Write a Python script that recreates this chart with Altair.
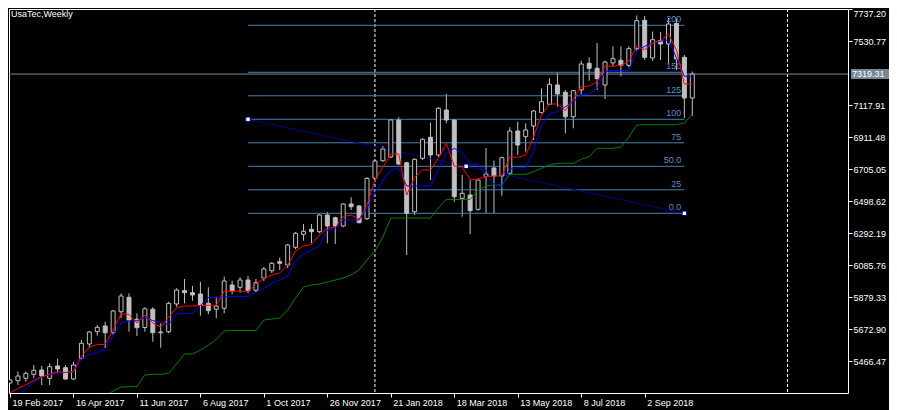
import json
import altair as alt
import pandas as pd

symbol_title = "UsaTec,Weekly"
x_tick_weeks = [0, 8, 16, 24, 32, 40, 48, 56, 64, 72, 80]
x_tick_labels = ["19 Feb 2017", "16 Apr 2017", "11 Jun 2017", "6 Aug 2017", "1 Oct 2017",
                 "26 Nov 2017", "21 Jan 2018", "18 Mar 2018", "13 May 2018", "8 Jul 2018", "2 Sep 2018"]
y_tick_values = [5466.47, 5672.90, 5879.33, 6085.76, 6292.19, 6498.62, 6705.05,
                 6911.48, 7117.91, 7530.77, 7737.20]

opens = [5326.5, 5341.3, 5356.8, 5382.6, 5410.3, 5356.8, 5436.1, 5425.2, 5352.3, 5485.8,
         5578.1, 5657.4, 5694.2, 5651.0, 5786.4, 5879.3, 5737.4, 5684.5, 5802.6, 5650.3,
         5657.4, 5836.1, 5921.9, 5909.0, 5900.6, 5840.6, 5801.9, 5808.4, 5958.7, 5943.8,
         5990.9, 5924.5, 6003.8, 6050.9, 6109.0, 6087.7, 6201.9, 6285.7, 6318.0, 6302.5,
         6410.2, 6392.8, 6339.3, 6481.2, 6468.3, 6386.4, 6647.0, 6760.5, 6784.4, 7023.1,
         6747.6, 6431.5, 6776.0, 6911.5, 6797.3, 7087.6, 7023.1, 6518.0, 6539.3, 6447.0,
         6658.6, 6713.4, 6661.8, 6679.2, 6952.1, 6915.3, 6984.4, 7070.2, 7124.4, 7248.9,
         7201.8, 7044.4, 7216.6, 7388.9, 7356.6, 7248.9, 7390.8, 7408.2, 7376.0, 7483.0,
         7666.2, 7423.0, 7535.9, 7513.4, 7645.6, 7427.6, 7165.0]
highs = [5352.3, 5401.9, 5399.4, 5442.6, 5436.1, 5453.5, 5483.2, 5442.6, 5463.9, 5603.9,
         5661.9, 5700.6, 5721.9, 5797.4, 5905.1, 5905.1, 5776.1, 5814.8, 5814.8, 5711.6,
         5850.9, 5937.4, 5997.4, 5952.2, 5980.0, 5943.8, 5883.2, 6012.2, 5986.4, 6008.3,
         6016.7, 5997.4, 6074.8, 6107.0, 6134.8, 6223.2, 6300.6, 6352.2, 6352.2, 6414.7,
         6429.6, 6399.3, 6485.7, 6524.4, 6474.7, 6653.4, 6765.0, 6855.4, 7027.6, 7040.5,
         6754.1, 6776.0, 6905.0, 7005.7, 7105.0, 7190.8, 7027.6, 6668.3, 6636.0, 6647.0,
         6842.5, 6761.8, 6786.3, 6976.0, 7012.1, 7001.8, 7087.6, 7227.6, 7292.1, 7328.2,
         7216.6, 7216.6, 7405.6, 7427.6, 7519.8, 7405.6, 7498.5, 7498.5, 7498.5, 7697.2,
         7694.0, 7594.0, 7590.8, 7681.1, 7679.1, 7442.4, 7336.0]
lows = [5320.0, 5313.6, 5334.9, 5356.8, 5313.6, 5313.6, 5392.9, 5345.8, 5345.8, 5474.8,
        5556.8, 5631.6, 5552.3, 5636.1, 5745.8, 5657.4, 5629.7, 5657.4, 5592.9, 5554.2,
        5647.1, 5818.7, 5840.6, 5857.4, 5760.6, 5769.6, 5743.8, 5776.1, 5898.7, 5909.0,
        5905.1, 5910.3, 5984.5, 6036.1, 6055.4, 6068.3, 6189.0, 6244.4, 6227.7, 6292.2,
        6227.7, 6223.2, 6330.9, 6442.5, 6356.7, 6378.0, 6640.5, 6754.1, 6777.9, 6732.8,
        6152.2, 6410.2, 6765.0, 6636.0, 6786.3, 7001.8, 6496.0, 6399.3, 6287.7, 6438.0,
        6421.2, 6421.2, 6534.7, 6668.3, 6797.3, 6818.6, 6894.1, 7066.3, 7119.8, 7108.9,
        6937.3, 6969.5, 7184.4, 7276.6, 7216.6, 7158.6, 7369.5, 7305.0, 7363.0, 7468.2,
        7410.1, 7403.7, 7410.1, 7390.8, 7345.6, 7036.0, 7048.9]
closes = [5345.8, 5371.6, 5389.0, 5408.4, 5371.6, 5431.6, 5416.8, 5352.3, 5442.6, 5582.6,
          5655.5, 5685.8, 5651.0, 5790.9, 5887.7, 5732.9, 5683.2, 5805.1, 5651.0, 5655.5,
          5840.6, 5926.4, 5909.0, 5894.2, 5829.6, 5792.9, 5823.2, 5984.5, 5921.9, 5990.9,
          5921.9, 5973.5, 6061.9, 6098.7, 6098.7, 6216.7, 6292.2, 6305.1, 6302.5, 6410.2,
          6339.3, 6339.3, 6481.2, 6463.8, 6360.6, 6647.0, 6758.6, 6836.0, 7023.1, 6739.2,
          6421.2, 6769.6, 6898.6, 6797.3, 7098.6, 7023.1, 6528.3, 6550.2, 6438.0, 6636.0,
          6674.7, 6661.8, 6779.9, 6952.1, 6861.8, 6958.6, 7081.1, 7141.1, 7253.4, 7190.8,
          7044.4, 7212.1, 7384.3, 7356.6, 7290.8, 7397.2, 7418.5, 7376.0, 7483.0, 7663.7,
          7427.6, 7541.1, 7513.4, 7642.4, 7416.6, 7165.0, 7319.31]

red_line = [5262.0, 5291.0, 5313.6, 5342.6, 5367.1, 5381.3, 5399.4, 5394.2, 5400.6, 5498.7,
            5556.8, 5574.8, 5574.8, 5668.4, 5771.6, 5769.6, 5713.5, 5765.1, 5713.5, 5687.7,
            5750.3, 5811.6, 5823.2, 5823.2, 5826.4, 5827.7, 5827.7, 5918.0, 5918.0, 5918.0,
            5918.0, 5965.1, 6001.9, 6023.2, 6036.1, 6087.7, 6178.0, 6210.2, 6219.9, 6281.2,
            6324.4, 6330.9, 6399.3, 6410.2, 6382.5, 6474.7, 6636.0, 6717.9, 6803.7, 6803.7,
            6539.3, 6653.4, 6700.5, 6700.5, 6776.0, 6872.8, 6726.3, 6717.9, 6640.5, 6640.5,
            6658.6, 6661.8, 6661.8, 6782.5, 6782.5, 6797.3, 6915.3, 7055.3, 7126.3, 7126.3,
            7083.1, 7156.6, 7237.9, 7242.4, 7268.2, 7369.5, 7369.5, 7376.0, 7401.8, 7498.5,
            7476.6, 7519.8, 7534.6, 7577.9, 7474.6, 7255.3, 7255.3]
blue_line = [5216.8, 5249.1, 5287.8, 5332.9, 5365.2, 5380.0, 5389.0, 5394.2, 5399.4, 5481.3,
             5510.3, 5525.2, 5541.3, 5632.9, 5716.7, 5726.4, 5728.4, 5749.0, 5729.6, 5718.7,
             5703.8, 5771.6, 5776.1, 5776.1, 5826.4, 5878.0, 5878.0, 5883.2, 5884.5, 5884.5,
             5884.5, 5910.3, 5937.4, 5969.6, 5990.9, 6016.7, 6110.3, 6158.6, 6184.4, 6210.2,
             6313.5, 6324.4, 6378.0, 6378.0, 6378.0, 6452.2, 6555.4, 6631.5, 6700.5, 6711.5,
             6597.3, 6597.3, 6597.3, 6597.3, 6700.5, 6808.3, 6840.5, 6808.3, 6739.2, 6739.2,
             6668.3, 6610.2, 6590.9, 6707.0, 6715.4, 6715.4, 6818.6, 6990.8, 7061.8, 7076.6,
             7108.9, 7141.1, 7184.4, 7190.8, 7229.5, 7337.2, 7341.1, 7341.1, 7341.1, 7470.1,
             7498.5, 7519.8, 7530.8, 7541.1, 7423.0, 7305.0, 7305.0]
green_line = [None] * 12 + [
    5242.6, 5274.9, 5300.7, 5302.6, 5302.6, 5378.1, 5382.6, 5382.6,
    5389.0, 5449.0, 5513.5, 5513.5, 5539.3, 5571.6, 5607.1, 5661.9, 5665.1, 5665.1,
    5665.1, 5665.1, 5732.9, 5739.3, 5745.8, 5797.4, 5874.8, 5945.8, 5958.7, 5965.1,
    5978.0, 5990.9, 6003.8, 6023.2, 6055.4, 6119.9, 6178.0, 6268.3, 6390.9, 6390.9,
    6390.9, 6390.9, 6390.9, 6390.9, 6455.4, 6510.2, 6510.2, 6510.2, 6510.2, 6571.5,
    6597.3, 6603.8, 6603.8, 6672.8, 6672.8, 6672.8, 6689.6, 6711.5, 6732.8, 6743.8,
    6743.8, 6743.8, 6769.6, 6786.3, 6840.5, 6840.5, 6840.5, 6848.9, 6913.4, 6990.8,
    6992.8, 6992.8, 6992.8, 6992.8, 6992.8, 7003.7, 7061.8]

last_price = 7319.31
year_breaks = [46, 98]
fib_start_week, fib_start_price = 30, 7027.6
fib_end_week, fib_end_price = 85, 6421.2
fib_levels = [0, 25, 50, 75, 100, 125, 150, 200]
fib_texts = ["0.0", "25", "50.0", "75", "100", "125", "150", "200"]

# ---------------- layout ----------------
W, H = 839, 384
XDOM = [-0.125, 105.625]
YDOM = [5262.0, 7739.1]
FONT = "Liberation Sans"
CANDLE = "#c0c0c0"
FIB = "#4682b4"
NAVY = "#00008b"

weeks = list(range(len(opens)))
cd = pd.DataFrame({"week": weeks, "open": opens, "high": highs, "low": lows, "close": closes})
cd["bull"] = cd["close"] >= cd["open"]
cd["blo"] = cd[["open", "close"]].min(axis=1)
cd["bhi"] = cd[["open", "close"]].max(axis=1)
cd["left"] = cd["week"] - 0.25
cd["right"] = cd["week"] + 0.25

xs = alt.Scale(domain=XDOM, nice=False, zero=False)
ys = alt.Scale(domain=YDOM, nice=False, zero=False)

label_expr = f"{json.dumps(x_tick_labels)}[indexof({json.dumps(x_tick_weeks)}, datum.value)]"
x_axis = alt.Axis(values=x_tick_weeks, labelExpr=label_expr, orient="bottom", labelAlign="left",
                  labelBaseline="top", tickSize=4, labelPadding=1, labelOffset=2, labelFlush=False,
                  labelOverlap=False, labelBound=False, title=None, domain=False, grid=False,
                  labelColor="white", tickColor="white", labelFont=FONT, labelFontSize=9)
y_axis = alt.Axis(values=y_tick_values, format=".2f", orient="right", tickSize=4, labelPadding=1,
                  labelAlign="left",
                  labelBaseline={"condition": {"test": "datum.value > 7700", "value": "top"},
                                 "value": "middle"},
                  title=None, domain=False, grid=False,
                  labelColor="white", tickColor="white", labelFont=FONT, labelFontSize=9,
                  labelOverlap=False, labelFlush=False, labelBound=False)


def X(field):
    return alt.X(field, scale=xs, axis=x_axis, title=None)


def Y(field):
    return alt.Y(field, scale=ys, axis=y_axis, title=None)


# year separators
sep_df = pd.DataFrame({"week": year_breaks})
seps = alt.Chart(sep_df).mark_rule(color="white", strokeDash=[3, 2], strokeWidth=1).encode(
    x=X("week:Q"))

# current price line
price_df = pd.DataFrame({"price": [last_price], "label": [f"{last_price:.2f}"]})
price_line = alt.Chart(price_df).mark_rule(color="#778899", strokeWidth=1).encode(y=Y("price:Q"))

# fibonacci
fib_df = pd.DataFrame({"level": fib_levels, "text": fib_texts})
fib_df["price"] = fib_end_price + (fib_start_price - fib_end_price) * fib_df["level"] / 100.0
fib_df["x1"] = fib_start_week
fib_df["x2"] = fib_end_week
fib_lines = alt.Chart(fib_df).mark_rule(color=FIB, strokeWidth=1).encode(
    x=X("x1:Q"), x2="x2:Q", y=Y("price:Q"))
fib_labels = alt.Chart(fib_df).mark_text(color="#5a8cc8", align="right", baseline="alphabetic",
                                         dx=-3, dy=-3, font=FONT, fontSize=9).encode(
    x=X("x2:Q"), y=Y("price:Q"), text="text:N")

anchor_df = pd.DataFrame({"week": [fib_start_week, (fib_start_week + fib_end_week) / 2, fib_end_week],
                          "price": [fib_start_price, (fib_start_price + fib_end_price) / 2, fib_end_price]})
diag_df = pd.DataFrame({"w1": [fib_start_week], "p1": [fib_start_price],
                        "w2": [fib_end_week], "p2": [fib_end_price]})
diag = alt.Chart(diag_df).mark_rule(color=NAVY, strokeWidth=1).encode(
    x=X("w1:Q"), y=Y("p1:Q"), x2="w2:Q", y2="p2:Q")
anchors = alt.Chart(anchor_df).mark_square(size=20, filled=True, fill="white", stroke=NAVY,
                                           strokeWidth=1, opacity=1).encode(
    x=X("week:Q"), y=Y("price:Q"))

# candles
wicks = alt.Chart(cd).mark_rule(color=CANDLE, strokeWidth=1, clip=True).encode(
    x=X("week:Q"), y=Y("low:Q"), y2="high:Q")
bull_bodies = alt.Chart(cd[cd["bull"]]).mark_rect(fill="black", stroke=CANDLE, strokeWidth=1,
                                                 clip=True).encode(
    x=X("left:Q"), x2="right:Q", y=Y("blo:Q"), y2="bhi:Q")
bear_bodies = alt.Chart(cd[~cd["bull"]]).mark_rect(fill=CANDLE, stroke=CANDLE, strokeWidth=1,
                                                  clip=True).encode(
    x=X("left:Q"), x2="right:Q", y=Y("blo:Q"), y2="bhi:Q")


def ind_line(values, color):
    df = pd.DataFrame({"week": weeks, "v": values}).dropna()
    return alt.Chart(df).mark_line(color=color, strokeWidth=1, clip=True).encode(
        x=X("week:Q"), y=Y("v:Q"))


green = ind_line(green_line, "#008000")
blue = ind_line(blue_line, "#0000ff")
red = ind_line(red_line, "#ff0000")

# title
title = alt.Chart(pd.DataFrame({"t": [symbol_title]})).mark_text(
    align="left", baseline="top", color="white", font=FONT, fontSize=9).encode(
    x=alt.value(2), y=alt.value(1), text="t:N")

# price tag on the axis
ppp = (YDOM[1] - YDOM[0]) / H
tag_df = price_df.copy()
tag_df["top"] = tag_df["price"] + 5 * ppp
tag_df["bot"] = tag_df["price"] - 5 * ppp
tag_box = alt.Chart(tag_df).mark_rect(fill="#778899").encode(
    x=alt.value(W + 3), x2=alt.value(W + 41), y=Y("top:Q"), y2="bot:Q")
tag_text = alt.Chart(tag_df).mark_text(align="left", baseline="middle", color="white",
                                       font=FONT, fontSize=9).encode(
    x=alt.value(W + 4), y=Y("price:Q"), text="label:N")

chart = alt.layer(
    wicks, seps, price_line, fib_lines, fib_labels, diag,
    bull_bodies, bear_bodies,
    green, blue, red, anchors, title, tag_box, tag_text
).properties(
    width=W, height=H,
    padding={"left": 1, "top": 1, "right": 41, "bottom": 17},
    autosize=alt.AutoSizeParams(type="none"),
).configure(background="black").configure_view(stroke="white", strokeWidth=1, fill="black")

chart.save("out.html", embed_options={"renderer": "svg", "actions": False})
